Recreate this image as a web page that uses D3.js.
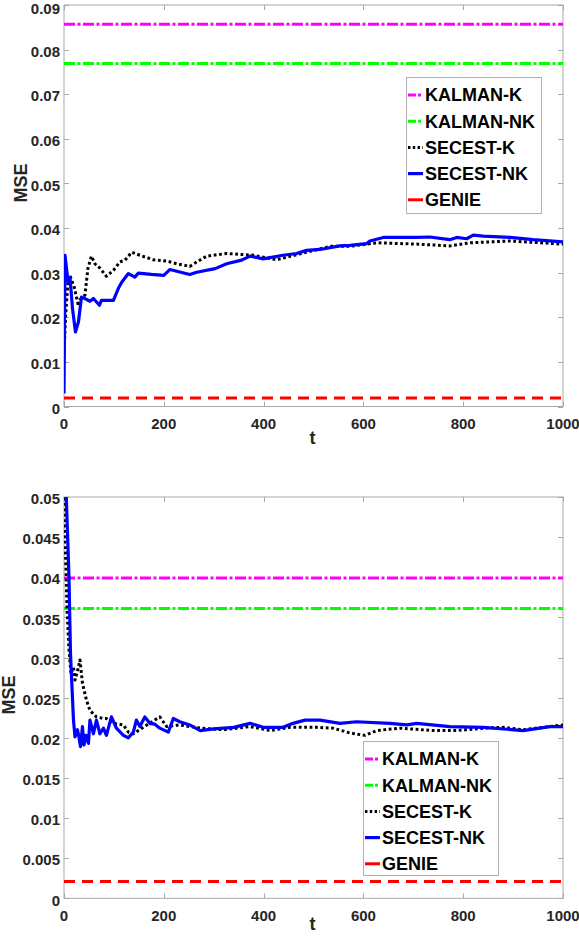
<!DOCTYPE html>
<html><head><meta charset="utf-8">
<script src="https://cdn.jsdelivr.net/npm/d3@7"></script>
<style>
body{margin:0;background:#fff;}
svg{display:block;font-family:"Liberation Sans",Arial,Helvetica,sans-serif;}
</style></head>
<body><svg id="c" width="579" height="937"></svg>
<script>
// ---------- DATA ----------
const seriesNames = ["KALMAN-K","KALMAN-NK","SECEST-K","SECEST-NK","GENIE"];
const xTicks = [0,200,400,600,800,1000];

// Top panel
const topYTicks = [0,0.01,0.02,0.03,0.04,0.05,0.06,0.07,0.08,0.09];
const topKalmanK = 0.0857;
const topKalmanNK = 0.0769;
const topGenie = 0.0019;
const topSecestKT = [0,3,8,12,15,20,25,29,32,38,42,48,55,62,72,85,99,112,122,136,152,179,206,226,252,266,286,326,380,426,533,573,627,707,773,814,894,1000];
const topSecestKV = [0.0115,0.020,0.028,0.0294,0.0283,0.027,0.0245,0.0225,0.0240,0.0245,0.0250,0.031,0.0337,0.032,0.031,0.0292,0.0305,0.0324,0.0328,0.0346,0.0339,0.0329,0.0326,0.032,0.0314,0.0324,0.0337,0.0343,0.0339,0.0329,0.0359,0.0359,0.0367,0.0364,0.036,0.0367,0.0371,0.0364];
const topSecestNKT = [0,2,5,8,12,17,23,29,35,42,52,59,71,75,99,109,116,129,142,149,175,200,212,252,266,303,326,356,373,399,439,466,486,513,553,573,606,613,640,707,733,773,787,807,820,840,894,940,1000];
const topSecestNKV = [0.0029,0.0339,0.031,0.028,0.029,0.022,0.0167,0.019,0.0245,0.0242,0.0236,0.0242,0.0227,0.0238,0.0238,0.0265,0.0279,0.0298,0.0290,0.0299,0.0296,0.0294,0.0307,0.0296,0.0301,0.0309,0.0320,0.0328,0.0337,0.0331,0.0339,0.0343,0.035,0.0352,0.036,0.0361,0.0365,0.0371,0.0379,0.0379,0.038,0.0374,0.0379,0.0376,0.0384,0.0382,0.0379,0.0374,0.0369];

// Bottom panel
const botYTicks = [0,0.005,0.01,0.015,0.02,0.025,0.03,0.035,0.04,0.045,0.05];
const botKalmanK = 0.0399;
const botKalmanNK = 0.0361;
const botGenie = 0.0021;
const botSecestKT = [0,2,4,6,10,14,19,22,29,32,37,45,52,65,79,85,99,119,129,139,166,192,206,232,273,320,373,413,453,506,539,573,603,627,673,740,787,840,880,920,1000];
const botSecestKV = [0.058,0.045,0.041,0.036,0.031,0.028,0.0288,0.0272,0.0288,0.0297,0.0268,0.0247,0.0234,0.0226,0.0224,0.0224,0.0218,0.0216,0.0207,0.0205,0.0216,0.0226,0.0214,0.0216,0.0212,0.021,0.0214,0.0209,0.0213,0.0213,0.0212,0.0206,0.0203,0.0209,0.0212,0.0209,0.0209,0.0212,0.0213,0.021,0.0216];
const botSecestNKT = [0,3,5,10,13,19,22,27,30,33,37,40,44,49,52,59,65,72,79,85,95,105,119,129,139,145,152,162,172,182,192,209,219,232,252,273,300,340,373,399,439,459,483,513,553,586,653,687,707,773,840,920,974,1000];
const botSecestNKV = [0.062,0.052,0.0493,0.0399,0.0305,0.0222,0.0201,0.021,0.0201,0.0189,0.0214,0.0191,0.0203,0.0193,0.0222,0.0205,0.0222,0.0205,0.0212,0.0203,0.0226,0.0212,0.0203,0.02,0.0207,0.0222,0.0214,0.0226,0.0218,0.0217,0.0212,0.0207,0.0224,0.022,0.0216,0.0209,0.0211,0.0213,0.0218,0.0213,0.0213,0.0218,0.0222,0.0222,0.0218,0.022,0.0218,0.0216,0.0218,0.0214,0.0213,0.0209,0.0214,0.0214];

// ---------- DRAW ----------
const svg = d3.select("#c");
const styles = {
  "KALMAN-K":  {color:"#ff00ff", dash:"11,2.5,3,2.5", w:3},
  "KALMAN-NK": {color:"#00ff00", dash:"11,2.5,3,2.5", w:3},
  "SECEST-K":  {color:"#000000", dash:"2.8,2.6", w:3},
  "SECEST-NK": {color:"#0000ff", dash:null, w:3.2},
  "GENIE":     {color:"#ff0000", dash:"11,7", w:3}
};

function panel(cfg){
  const g = svg.append("g");
  const x = d3.scaleLinear().domain([0,1000]).range([cfg.left,cfg.right]);
  const y = d3.scaleLinear().domain([0,cfg.ymax]).range([cfg.bottom,cfg.top]);
  const axisCol = "#a8a8a8";
  const txtCol = "#262626";

  // frame
  g.append("rect").attr("x",cfg.left).attr("y",cfg.top)
    .attr("width",cfg.right-cfg.left).attr("height",cfg.bottom-cfg.top)
    .attr("fill","none").attr("stroke",axisCol).attr("stroke-width",1);

  // ticks inward on all sides
  const tl = 5;
  cfg.yTicks.forEach(v=>{
    const yy = Math.round(y(v))+0.5;
    g.append("line").attr("x1",cfg.left).attr("x2",cfg.left+tl).attr("y1",yy).attr("y2",yy).attr("stroke",axisCol);
    g.append("line").attr("x1",cfg.right-tl).attr("x2",cfg.right).attr("y1",yy).attr("y2",yy).attr("stroke",axisCol);
    g.append("text").attr("x",cfg.left-4).attr("y",Math.max(y(v)+7.2,14))
      .attr("text-anchor","end").attr("font-size",15).attr("font-weight","bold")
      .attr("fill",txtCol).text(d3.format("~g")(v));
  });
  xTicks.forEach(v=>{
    const xx = Math.round(x(v))+0.5;
    g.append("line").attr("x1",xx).attr("x2",xx).attr("y1",cfg.bottom).attr("y2",cfg.bottom-tl).attr("stroke",axisCol);
    g.append("line").attr("x1",xx).attr("x2",xx).attr("y1",cfg.top).attr("y2",cfg.top+tl).attr("stroke",axisCol);
    g.append("text").attr("x",x(v)).attr("y",cfg.bottom+17).attr("dy","0.36em")
      .attr("text-anchor","middle").attr("font-size",15).attr("font-weight","bold")
      .attr("fill",txtCol).text(v);
  });

  // axis labels
  g.append("text").attr("x",(cfg.left+cfg.right)/2-1).attr("y",cfg.bottom+cfg.tOff)
    .attr("text-anchor","middle").attr("font-size",18).attr("font-weight","bold").attr("fill",txtCol).text("t");
  g.append("text").attr("transform",`translate(${cfg.mseX},${cfg.mseY}) rotate(-90)`)
    .attr("text-anchor","middle").attr("font-size",18).attr("font-weight","bold").attr("fill",txtCol).text("MSE");

  // clip
  const cid = "clip"+cfg.id;
  svg.append("defs").append("clipPath").attr("id",cid).append("rect")
    .attr("x",cfg.left).attr("y",cfg.top).attr("width",cfg.right-cfg.left).attr("height",cfg.bottom-cfg.top);
  const pg = g.append("g").attr("clip-path",`url(#${cid})`);

  const line = d3.line().x(d=>x(d[0])).y(d=>y(d[1]));
  const series = [
    {name:"KALMAN-K", data:[[0,cfg.kk],[1000,cfg.kk]]},
    {name:"KALMAN-NK", data:[[0,cfg.knk],[1000,cfg.knk]]},
    {name:"GENIE", data:[[0,cfg.genie],[1000,cfg.genie]]},
    {name:"SECEST-K", data:cfg.skT.map((t,i)=>[t,cfg.skV[i]])},
    {name:"SECEST-NK", data:cfg.snkT.map((t,i)=>[t,cfg.snkV[i]])}
  ];
  series.forEach(s=>{
    const st = styles[s.name];
    pg.append("path").attr("d",line(s.data)).attr("fill","none")
      .attr("stroke",st.color).attr("stroke-width",st.w)
      .attr("stroke-dasharray",st.dash).attr("stroke-linejoin","round");
  });

  // legend
  const L = cfg.legend;
  const lg = g.append("g");
  lg.append("rect").attr("x",L.x+0.5).attr("y",L.y+0.5).attr("width",L.w).attr("height",L.h)
    .attr("fill","#fff").attr("stroke","#b0b0b0").attr("stroke-width",1);
  seriesNames.forEach((n,i)=>{
    const st = styles[n];
    const yy = L.y + 18 + i*26.2;
    lg.append("line").attr("x1",L.x+2).attr("x2",L.x+17).attr("y1",yy).attr("y2",yy)
      .attr("stroke",st.color).attr("stroke-width",st.w)
      .attr("stroke-dasharray", n.startsWith("KALMAN") ? "8,2,3,2" : (n==="SECEST-K" ? "2.4,2.4" : null));
    lg.append("text").attr("x",L.x+19).attr("y",yy).attr("dy","0.36em")
      .attr("font-size",18).attr("font-weight","bold").attr("fill","#000").text(n);
  });
}

panel({id:"a", left:64, right:563, top:5, bottom:406.5, ymax:0.09, yTicks:topYTicks,
  kk:topKalmanK, knk:topKalmanNK, genie:topGenie,
  skT:topSecestKT, skV:topSecestKV, snkT:topSecestNKT, snkV:topSecestNKV,
  tOff:37, mseX:27, mseY:183,
  legend:{x:406, y:77, w:135, h:136}});

panel({id:"b", left:64, right:563, top:497, bottom:898.3, ymax:0.05, yTicks:botYTicks,
  kk:botKalmanK, knk:botKalmanNK, genie:botGenie,
  skT:botSecestKT, skV:botSecestKV, snkT:botSecestNKT, snkV:botSecestNKV,
  tOff:32, mseX:15, mseY:695,
  legend:{x:363, y:741, w:135, h:134}});
</script></body></html>
